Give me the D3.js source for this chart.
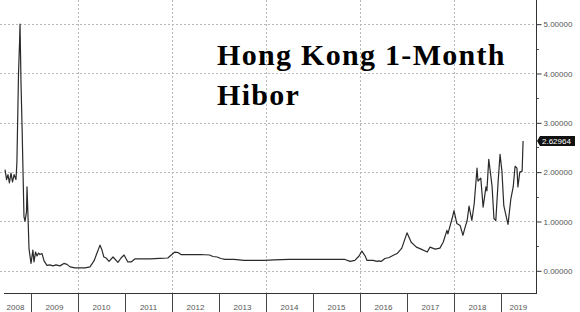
<!DOCTYPE html>
<html>
<head>
<meta charset="utf-8">
<script src="https://cdn.jsdelivr.net/npm/d3@7"></script>
<style>
  body { margin: 0; background: #fff; }
  svg { display: block; }
</style>
</head>
<body>
<div id="chart"></div>
<script>
// decimal years
var dates = [
  2008.447, 2008.48, 2008.51, 2008.54, 2008.574, 2008.606, 2008.64, 2008.68, 2008.70, 2008.734,
  2008.755, 2008.766, 2008.787, 2008.81, 2008.83, 2008.85, 2008.872, 2008.904, 2008.915, 2008.936,
  2008.957, 2009.0, 2009.04, 2009.064, 2009.096, 2009.128, 2009.16, 2009.19, 2009.234, 2009.277,
  2009.34, 2009.40, 2009.47, 2009.53, 2009.617, 2009.70, 2009.766, 2009.83, 2009.936, 2010.04,
  2010.15, 2010.255, 2010.34, 2010.40, 2010.468, 2010.51, 2010.55, 2010.596, 2010.66, 2010.745,
  2010.85, 2010.915, 2010.98, 2011.06, 2011.13, 2011.21, 2011.32, 2011.53, 2011.74, 2011.91,
  2011.996, 2012.06, 2012.13, 2012.19, 2012.38, 2012.6, 2012.8, 2012.87, 2012.96, 2013.04,
  2013.13, 2013.32, 2013.53, 2013.96, 2014.17, 2014.49, 2014.70, 2014.94, 2015.15, 2015.36,
  2015.68, 2015.79, 2015.89, 2015.98, 2016.04, 2016.11, 2016.15, 2016.28, 2016.36, 2016.40,
  2016.45, 2016.53, 2016.62, 2016.72, 2016.79, 2016.89, 2017.0, 2017.09, 2017.2, 2017.30,
  2017.43, 2017.49, 2017.6, 2017.7, 2017.77, 2017.85, 2017.87, 2017.96, 2018.0, 2018.06,
  2018.13, 2018.19, 2018.23, 2018.28, 2018.32, 2018.38, 2018.43, 2018.49, 2018.51, 2018.57,
  2018.62, 2018.68, 2018.70, 2018.74, 2018.81, 2018.85, 2018.89, 2018.94, 2018.98, 2019.02,
  2019.06, 2019.13, 2019.15, 2019.21, 2019.26, 2019.30, 2019.34, 2019.36, 2019.40, 2019.45,
  2019.47
];
var hibor = [
  2.05, 1.85, 1.95, 1.78, 1.98, 1.8, 1.95, 1.85, 2.2, 4.0,
  4.6, 5.0, 3.8, 2.9, 2.0, 1.1, 1.0, 1.2, 1.7, 1.1,
  0.45, 0.15, 0.42, 0.18, 0.38, 0.3, 0.36, 0.33, 0.35, 0.2,
  0.11, 0.12, 0.1, 0.12, 0.1, 0.15, 0.13, 0.08, 0.06, 0.06,
  0.06, 0.08, 0.2, 0.35, 0.52, 0.42, 0.28, 0.26, 0.19, 0.28,
  0.17, 0.26, 0.32, 0.18, 0.18, 0.24, 0.24, 0.24, 0.25, 0.26,
  0.33, 0.38, 0.37, 0.33, 0.33, 0.33, 0.32, 0.29, 0.28, 0.25,
  0.23, 0.23, 0.21, 0.21, 0.22, 0.23, 0.23, 0.23, 0.23, 0.23,
  0.23, 0.19, 0.21, 0.3, 0.4, 0.3, 0.21, 0.21, 0.19, 0.2,
  0.19, 0.25, 0.27, 0.32, 0.35, 0.46, 0.77, 0.58, 0.48, 0.44,
  0.38, 0.48, 0.44, 0.46, 0.58, 0.82, 0.75, 1.06, 1.22, 0.96,
  0.92, 0.72, 0.86, 1.02, 1.31, 1.02, 1.36, 2.08, 1.82, 1.88,
  1.29, 1.7, 1.62, 2.26, 1.72, 1.06, 1.02, 1.82, 2.36, 2.02,
  1.32, 1.02, 0.94, 1.46, 1.7, 2.12, 2.08, 1.7, 2.0, 2.02,
  2.62964
];
var yearLabels = [2008, 2009, 2010, 2011, 2012, 2013, 2014, 2015, 2016, 2017, 2018, 2019];
var gridYears = [2010, 2012, 2014, 2016, 2018];
var yTicks = [0, 1, 2, 3, 4, 5];
var yMinorTicks = [0.5, 1.5, 2.5, 3.5, 4.5];
var titleLines = ["Hong Kong 1-Month", "Hibor"];
var lastLabel = "2.62964";

var svgWidth = 580;
var svgHeight = 312;
var plotRight = 536;
var plotBottom = 293;

var svg = d3.select("#chart")
  .append("svg")
  .attr("width", svgWidth)
  .attr("height", svgHeight);

svg.append("rect").attr("width", svgWidth).attr("height", svgHeight).attr("fill", "#fff");

var x = d3.scaleLinear()
  .domain([2008.34, 2019.745])
  .range([0, plotRight]);

var y = d3.scaleLinear()
  .domain([-0.45, 5.49])
  .range([plotBottom, 0]);

// gridlines
svg.append("g").selectAll("line.hgrid")
  .data(yTicks)
  .enter().append("line")
  .attr("x1", 0).attr("x2", plotRight)
  .attr("y1", d => Math.round(y(d)) + 0.5).attr("y2", d => Math.round(y(d)) + 0.5)
  .attr("stroke", "#b8b8b8")
  .attr("stroke-dasharray", "2,2");

svg.append("g").selectAll("line.vgrid")
  .data(gridYears)
  .enter().append("line")
  .attr("x1", d => Math.round(x(d)) + 0.5).attr("x2", d => Math.round(x(d)) + 0.5)
  .attr("y1", 0).attr("y2", plotBottom)
  .attr("stroke", "#b8b8b8")
  .attr("stroke-dasharray", "2,2");

// title
var title = svg.append("text")
  .attr("x", 217)
  .attr("y", 65)
  .style("font-family", "'Liberation Serif', 'Times New Roman', serif")
  .style("font-weight", "bold")
  .style("font-size", "30px")
  .style("letter-spacing", "1.3px")
  .attr("fill", "#000");
title.selectAll("tspan")
  .data(titleLines)
  .enter().append("tspan")
  .attr("x", 217)
  .attr("dy", (d, i) => i === 0 ? 0 : 40)
  .text(d => d);

// series
var line = d3.line()
  .x((d, i) => x(dates[i]))
  .y(d => y(d));

svg.append("path")
  .datum(hibor)
  .attr("d", line)
  .attr("fill", "none")
  .attr("stroke", "#2a2a2a")
  .attr("stroke-width", 1.2)
  .attr("stroke-linejoin", "round");

// right axis
var yAxis = d3.axisRight(y)
  .tickValues(yTicks)
  .tickSize(5)
  .tickPadding(2)
  .tickFormat(d3.format(".5f"));

var yAxisG = svg.append("g")
  .attr("transform", `translate(${plotRight + 0.5},0)`)
  .call(yAxis);
yAxisG.select(".domain").remove();
yAxisG.selectAll(".tick line").attr("stroke", "#333");
yAxisG.selectAll(".tick text")
  .attr("fill", "#555")
  .style("font-family", "'Liberation Sans', Arial, sans-serif")
  .style("font-size", "8px");

svg.append("g").selectAll("line.minor")
  .data(yMinorTicks)
  .enter().append("line")
  .attr("x1", plotRight).attr("x2", plotRight + 3)
  .attr("y1", d => Math.round(y(d)) + 0.5).attr("y2", d => Math.round(y(d)) + 0.5)
  .attr("stroke", "#555");

svg.append("line")
  .attr("x1", plotRight + 0.5).attr("x2", plotRight + 0.5)
  .attr("y1", 0).attr("y2", plotBottom + 0.5)
  .attr("stroke", "#333");

// bottom axis
svg.append("line")
  .attr("x1", 4).attr("x2", plotRight + 1)
  .attr("y1", plotBottom + 0.5).attr("y2", plotBottom + 0.5)
  .attr("stroke", "#333");

svg.append("g").selectAll("line.ysep")
  .data(yearLabels.slice(1))
  .enter().append("line")
  .attr("x1", d => Math.round(x(d)) + 0.5).attr("x2", d => Math.round(x(d)) + 0.5)
  .attr("y1", plotBottom).attr("y2", svgHeight)
  .attr("stroke", "#444");

svg.append("g").selectAll("text.year")
  .data(yearLabels)
  .enter().append("text")
  .attr("x", d => {
    var a = Math.max(x(d), 0), b = Math.min(x(d + 1), x(2019.74));
    return (a + b) / 2;
  })
  .attr("y", 310)
  .attr("text-anchor", "middle")
  .attr("fill", "#555")
  .style("font-family", "'Liberation Sans', Arial, sans-serif")
  .style("font-size", "8px")
  .text(d => d);

// last value tag
var lastY = y(hibor[hibor.length - 1]);
var tag = svg.append("g").attr("transform", `translate(${plotRight + 1},${lastY})`);
tag.append("path")
  .attr("d", "M0,0 L3,-5 L38,-5 L38,5 L3,5 Z")
  .attr("fill", "#111");
tag.append("text")
  .attr("x", 5)
  .attr("y", 3)
  .attr("fill", "#fff")
  .style("font-family", "'Liberation Sans', Arial, sans-serif")
  .style("font-size", "8px")
  .text(lastLabel);
</script>
</body>
</html>
